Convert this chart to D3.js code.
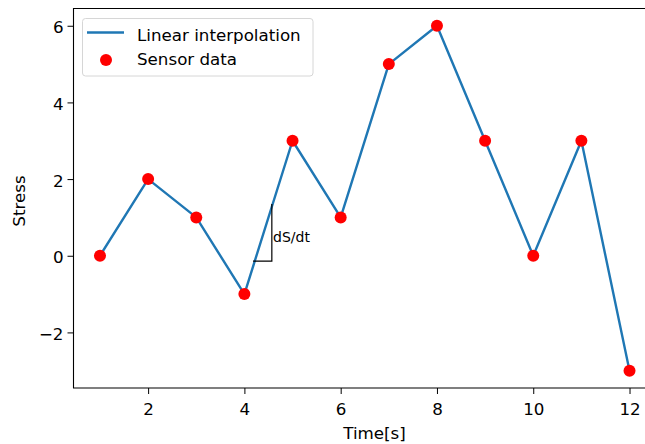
<!DOCTYPE html>
<html>
<head>
<meta charset="utf-8">
<script src="https://cdn.jsdelivr.net/npm/d3@7"></script>
<style>
  html, body { margin: 0; padding: 0; background: #fff; }
  text { font-family: "DejaVu Sans", sans-serif; }
</style>
</head>
<body>
<svg id="chart" width="645" height="444"></svg>
<script>
const times = [1, 2, 3, 4, 5, 6, 7, 8, 9, 10, 11, 12];
const stress = [0, 2, 1, -1, 3, 1, 5, 6, 3, 0, 3, -3];
const xTicks = [2, 4, 6, 8, 10, 12];
const yTicks = [-2, 0, 2, 4, 6];
const slopeX = [4.18, 4.57];
const slopeY = [-0.14, 1.35];
const labels = { x: "Time[s]", y: "Stress", slope: "dS/dt", line: "Linear interpolation", dots: "Sensor data" };

const FS = 16.7;
const svg = d3.select("#chart");
const L = 73.5, R = 656, T = 8.5, B = 388;
const x = d3.scaleLinear().domain([0.45, 12.55]).range([L, R]);
const y = d3.scaleLinear().domain([-3.45, 6.45]).range([B, T]);
const data = times.map((t, i) => ({ t, v: stress[i] }));

// line
svg.append("path")
  .datum(data)
  .attr("fill", "none")
  .attr("stroke", "#1f77b4")
  .attr("stroke-width", 2.4)
  .attr("stroke-linejoin", "round")
  .attr("d", d3.line().x(d => x(d.t)).y(d => y(d.v)));

// dots
svg.selectAll("circle.pt").data(data).enter().append("circle")
  .attr("class", "pt")
  .attr("cx", d => x(d.t)).attr("cy", d => y(d.v))
  .attr("r", 6).attr("fill", "#ff0000");

// slope triangle
svg.append("path")
  .attr("fill", "none").attr("stroke", "#000").attr("stroke-width", 1.2)
  .attr("d", `M${x(slopeX[0])},${y(slopeY[0])}L${x(slopeX[1])},${y(slopeY[0])}L${x(slopeX[1])},${y(slopeY[1])}`);
svg.append("text")
  .attr("x", x(slopeX[1]) + 1.2).attr("y", y(0.5) + 5)
  .attr("font-size", 14).attr("fill", "#000")
  .text(labels.slope);

// axes
const xAxis = d3.axisBottom(x).tickValues(xTicks).tickSize(6).tickPadding(9.5).tickFormat(d3.format("d"));
const yAxis = d3.axisLeft(y).tickValues(yTicks).tickSize(6).tickPadding(4)
  .tickFormat(d => d < 0 ? "\u2212" + Math.abs(d) : d);
const gx = svg.append("g").attr("transform", `translate(0,${B})`).call(xAxis);
const gy = svg.append("g").attr("transform", `translate(${L},0)`).call(yAxis);
[gx, gy].forEach(g => {
  g.select(".domain").remove();
  g.selectAll("text").attr("font-size", FS).attr("fill", "#000").attr("font-family", "DejaVu Sans");
  g.selectAll("line").attr("stroke", "#000").attr("stroke-width", 1);
});
gy.selectAll("text").attr("dy", "0.42em");

// spines
svg.append("path").attr("fill", "none").attr("stroke", "#000").attr("stroke-width", 1.1)
  .attr("d", `M${R},${T}L${L},${T}L${L},${B}L${R},${B}`);

// axis labels
svg.append("text").attr("x", 374.5).attr("y", 439).attr("text-anchor", "middle")
  .attr("font-size", FS).attr("fill", "#000").text(labels.x);
svg.append("text").attr("transform", `translate(24.5,201) rotate(-90)`)
  .attr("text-anchor", "middle").attr("font-size", FS).attr("fill", "#000").text(labels.y);

// legend
const lg = svg.append("g");
lg.append("rect").attr("x", 82.5).attr("y", 18.5).attr("width", 230.5).attr("height", 57.5)
  .attr("rx", 3).attr("fill", "#fff").attr("fill-opacity", 0.8).attr("stroke", "#d6d6d6").attr("stroke-width", 1);
lg.append("line").attr("x1", 87).attr("x2", 124).attr("y1", 32.5).attr("y2", 32.5)
  .attr("stroke", "#1f77b4").attr("stroke-width", 2.4);
lg.append("circle").attr("cx", 106).attr("cy", 60).attr("r", 6).attr("fill", "#ff0000");
lg.append("text").attr("x", 137).attr("y", 40.5).attr("font-size", FS).attr("fill", "#000").text(labels.line);
lg.append("text").attr("x", 137).attr("y", 65).attr("font-size", FS).attr("fill", "#000").text(labels.dots);
</script>
</body>
</html>
